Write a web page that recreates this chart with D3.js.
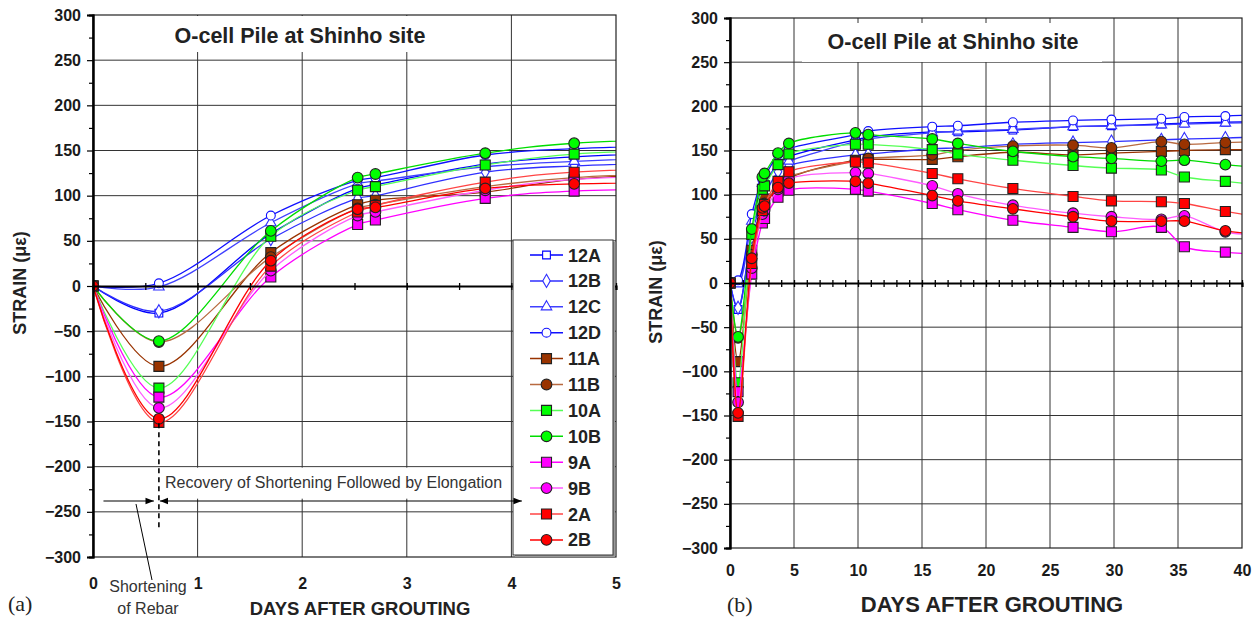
<!DOCTYPE html>
<html>
<head>
<meta charset="utf-8">
<script src="https://cdn.jsdelivr.net/npm/d3@7"></script>
<style>
  body { margin: 0; background: #fff; }
  svg { display: block; font-family: "Liberation Sans", Arial, sans-serif; }
</style>
</head>
<body>
<svg id="chart" width="1256" height="620"></svg>
<script>
// days after grouting at which the gauges were read (last one lies past the right axis)
var days = [0, 0.63, 1.7, 2.53, 2.7, 3.75, 4.6, 9.8, 10.8, 15.8, 17.8, 22.1, 26.8, 29.8, 33.7, 35.5, 38.7, 42];

var gauges = ["12A", "12B", "12C", "12D", "11A", "11B", "10A", "10B", "9A", "9B", "2A", "2B"];

// strain readings (micro strain), one list per gauge
var strain12A = [0, -30, 58, 108, 112, 135, 143, 162, 165, 171, 171, 173, 177, 178, 180, 181, 182, 183];
var strain12B = [0, -28, 52, 97, 100, 126, 133, 145, 146, 152, 153, 157, 159, 160, 162, 163, 164, 166];
var strain12C = [0, -1, 70, 113, 116, 132, 138, 160, 163, 170, 172, 174, 177, 178, 179, 180, 181, 182];
var strain12D = [0, 3, 78, 117, 120, 145, 152, 168, 172, 177, 178, 182, 184, 185, 186, 188, 189, 191];
var strain11A = [0, -89, 37, 90, 95, 104, 118, 139, 140, 140, 143, 148, 145, 147, 149, 150, 151, 151];
var strain11B = [0, -62, 32, 86, 90, 110, 120, 138, 141, 145, 150, 155, 156, 153, 160, 157, 159, 160];
var strain10A = [0, -113, 55, 106, 110, 134, 146, 157, 157, 151, 146, 139, 133, 130, 128, 120, 115, 110];
var strain10B = [0, -61, 61, 120, 124, 147, 158, 170, 168, 163, 158, 149, 143, 141, 138, 139, 134, 130];
var strain9A = [0, -123, 10, 68, 73, 97, 105, 106, 104, 90, 83, 71, 63, 58, 63, 41, 35, 32];
var strain9B = [0, -135, 17, 78, 82, 106, 118, 125, 124, 110, 101, 88, 79, 75, 72, 76, 58, 54];
var strain2A = [0, -151, 22, 82, 89, 115, 126, 137, 136, 124, 118, 107, 98, 93, 92, 90, 81, 74];
var strain2B = [0, -147, 28, 85, 87, 108, 113, 115, 113, 99, 93, 84, 75, 70, 70, 70, 59, 55];

var strainByGauge = [strain12A, strain12B, strain12C, strain12D, strain11A, strain11B,
  strain10A, strain10B, strain9A, strain9B, strain2A, strain2B];

var strainTicks = [-300, -250, -200, -150, -100, -50, 0, 50, 100, 150, 200, 250, 300];
var dayTicksA = [0, 1, 2, 3, 4, 5];
var dayTicksB = [0, 5, 10, 15, 20, 25, 30, 35, 40];

var chartTitle = "O-cell Pile at Shinho site";

// look of each gauge
var gaugeStyle = {
  "12A": { line: "#0000ff", shape: "square", fill: "#fff", stroke: "#0000ff" },
  "12B": { line: "#2f2fff", shape: "diamond", fill: "#fff", stroke: "#2f2fff" },
  "12C": { line: "#4040ff", shape: "triangle", fill: "#fff", stroke: "#3030ff" },
  "12D": { line: "#1010ff", shape: "circle", fill: "#fff", stroke: "#1010ff" },
  "11A": { line: "#993300", shape: "square", fill: "#993300", stroke: "#222" },
  "11B": { line: "#b86a40", shape: "circle", fill: "#993300", stroke: "#222" },
  "10A": { line: "#55ff55", shape: "square", fill: "#00ff00", stroke: "#222" },
  "10B": { line: "#00dd00", shape: "circle", fill: "#00ff00", stroke: "#222" },
  "9A": { line: "#ff00ff", shape: "square", fill: "#ff00ff", stroke: "#222" },
  "9B": { line: "#ff5cff", shape: "circle", fill: "#ff00ff", stroke: "#222" },
  "2A": { line: "#ff4444", shape: "square", fill: "#ff0000", stroke: "#222" },
  "2B": { line: "#ff0000", shape: "circle", fill: "#ff0000", stroke: "#222" }
};

var svg = d3.select("#chart");

function symbolPath(style) {
  var open = style.fill === "#fff";
  var types = {
    square: d3.symbolSquare,
    diamond: d3.symbolDiamond,
    triangle: d3.symbolTriangle,
    circle: d3.symbolCircle
  };
  var sizes = open
    ? { square: 60, diamond: 50, triangle: 48, circle: 62 }
    : { square: 100, diamond: 80, triangle: 80, circle: 90 };
  return d3.symbol().type(types[style.shape]).size(sizes[style.shape])();
}

function styleTickText(axis) {
  axis.selectAll("text")
    .attr("font-size", "16px").attr("font-weight", "bold")
    .attr("font-family", "Liberation Sans, Arial, sans-serif")
    .attr("fill", "#1a1a1a");
}

function drawPanel(p) {
  var x = d3.scaleLinear().domain([0, p.xMax]).range([p.left, p.right]);
  var y = d3.scaleLinear().domain([-300, 300]).range([p.bottom, p.top]);
  var g = svg.append("g").attr("class", "panel-" + p.name);

  svg.append("clipPath").attr("id", "clip-" + p.name)
    .append("rect")
    .attr("x", p.left).attr("y", p.top)
    .attr("width", p.right - p.left).attr("height", p.bottom - p.top);

  // grid
  g.selectAll(".hgrid")
    .data(strainTicks.filter(function(d) { return d > -300 && d < 300 && d !== 0; }))
    .enter().append("line")
    .attr("x1", p.left).attr("x2", p.right)
    .attr("y1", function(d) { return y(d); })
    .attr("y2", function(d) { return y(d); })
    .attr("stroke", "#333").attr("stroke-width", 1);

  g.selectAll(".vgrid")
    .data(p.dayTicks.filter(function(d) { return d > 0 && d < p.xMax; }))
    .enter().append("line")
    .attr("y1", p.top).attr("y2", p.bottom)
    .attr("x1", function(d) { return x(d); })
    .attr("x2", function(d) { return x(d); })
    .attr("stroke", "#333").attr("stroke-width", 1);

  // white box behind the title
  g.append("rect")
    .attr("x", p.titleBox[0]).attr("y", p.titleBox[1])
    .attr("width", p.titleBox[2]).attr("height", p.titleBox[3])
    .attr("fill", "#fff");
  g.append("text")
    .attr("x", p.titleX).attr("y", p.titleY)
    .attr("text-anchor", "middle")
    .attr("font-size", "21.5px").attr("font-weight", "bold")
    .attr("fill", "#222")
    .text(chartTitle);

  if (p.textBox) p.textBox(g, x, y);

  // series
  var line = d3.line()
    .curve(d3.curveCatmullRom.alpha(0.5))
    .x(function(d) { return x(d[0]); })
    .y(function(d) { return y(d[1]); });

  var plot = g.append("g").attr("clip-path", "url(#clip-" + p.name + ")");
  gauges.forEach(function(name, i) {
    var style = gaugeStyle[name];
    var pts = days.map(function(t, k) { return [t, strainByGauge[i][k]]; });
    plot.append("path")
      .attr("d", line(pts))
      .attr("fill", "none")
      .attr("stroke", style.line)
      .attr("stroke-width", 1.3);
    plot.selectAll(".m" + name)
      .data(pts.filter(function(d) { return d[0] <= p.xMax; }))
      .enter().append("path")
      .attr("d", symbolPath(style))
      .attr("transform", function(d) {
        return "translate(" + x(d[0]) + "," + y(d[1]) + ")";
      })
      .attr("fill", style.fill)
      .attr("stroke", style.stroke)
      .attr("stroke-width", 1.1);
  });

  // frame
  g.append("rect")
    .attr("x", p.left).attr("y", p.top)
    .attr("width", p.right - p.left).attr("height", p.bottom - p.top)
    .attr("fill", "none").attr("stroke", "#222").attr("stroke-width", 1.2);

  // y axis, major + minor ticks
  var yAxis = g.append("g")
    .attr("transform", "translate(" + p.left + ",0)")
    .call(d3.axisLeft(y).tickValues(strainTicks).tickSize(6).tickPadding(6));
  var yMinor = g.append("g")
    .attr("transform", "translate(" + p.left + ",0)")
    .call(d3.axisLeft(y).tickValues(d3.range(-275, 300, 50)).tickSize(4).tickFormat(""));
  [yAxis, yMinor].forEach(function(a) {
    a.select(".domain").attr("stroke", "#000").attr("stroke-width", 2);
    a.selectAll(".tick line").attr("stroke", "#000").attr("stroke-width", 1.2);
  });
  styleTickText(yAxis);

  // zero line with small day ticks
  var zero = g.append("g")
    .attr("transform", "translate(0," + y(0) + ")")
    .call(d3.axisBottom(x).tickValues(d3.range(0, p.xMax + 0.001, p.minorStep))
      .tickSize(4).tickFormat(""));
  zero.select(".domain").attr("stroke", "#000").attr("stroke-width", 2.2);
  zero.selectAll(".tick line").attr("stroke", "#000").attr("stroke-width", 1.3)
    .attr("y1", -3);

  // day labels under the frame
  var xAxis = g.append("g")
    .attr("transform", "translate(0," + p.bottom + ")")
    .call(d3.axisBottom(x).tickValues(p.dayTicks).tickFormat(d3.format("d"))
      .tickSize(0).tickPadding(p.xPad));
  xAxis.select(".domain").remove();
  styleTickText(xAxis);

  // axis titles
  g.append("text")
    .attr("x", p.xTitleX).attr("y", p.xTitleY)
    .attr("text-anchor", "middle")
    .attr("font-size", p.xTitleSize).attr("font-weight", "bold")
    .attr("fill", "#222")
    .text("DAYS AFTER GROUTING");
  g.append("text")
    .attr("transform", "translate(" + p.yTitleX + "," + p.yTitleY + ") rotate(-90)")
    .attr("text-anchor", "middle")
    .attr("font-size", p.yTitleSize).attr("font-weight", "bold")
    .attr("fill", "#222")
    .text("STRAIN (με)");

  g.append("text")
    .attr("x", p.tagX).attr("y", p.tagY)
    .attr("font-family", "Liberation Serif, Times New Roman, serif")
    .attr("font-size", "22px")
    .attr("fill", "#222")
    .text(p.tag);

  if (p.legend) drawLegend(g, p.legend);
  if (p.arrows) p.arrows(g, x, y);
}

function drawLegend(g, box) {
  g.append("rect")
    .attr("x", box.x + 2).attr("y", box.y + 2)
    .attr("width", box.w).attr("height", box.h)
    .attr("fill", "#999");
  g.append("rect")
    .attr("x", box.x).attr("y", box.y)
    .attr("width", box.w).attr("height", box.h)
    .attr("fill", "#fff").attr("stroke", "#333").attr("stroke-width", 1);

  var rows = g.selectAll(".legend-row")
    .data(gauges)
    .enter().append("g")
    .attr("transform", function(d, i) {
      return "translate(" + (box.x + 17) + "," + (box.y + 15 + i * 25.9) + ")";
    });
  rows.append("line")
    .attr("x1", 0).attr("x2", 33)
    .attr("stroke", function(d) { return gaugeStyle[d].line; })
    .attr("stroke-width", 1.5);
  rows.append("path")
    .attr("d", function(d) { return symbolPath(gaugeStyle[d]); })
    .attr("transform", "translate(16.5,0)")
    .attr("fill", function(d) { return gaugeStyle[d].fill; })
    .attr("stroke", function(d) { return gaugeStyle[d].stroke; })
    .attr("stroke-width", 1.1);
  rows.append("text")
    .attr("x", 38).attr("y", 6.5)
    .attr("font-size", "18px").attr("font-weight", "bold")
    .attr("fill", "#222")
    .text(function(d) { return d; });
}

// note box of panel (a), drawn under the curves
function noteBoxA(g, x, y) {
  g.append("rect")
    .attr("x", 160).attr("y", y(-200) + 1)
    .attr("width", 350).attr("height", 31)
    .attr("fill", "#fff");
  g.append("text")
    .attr("x", 165).attr("y", y(-200) + 21)
    .attr("font-size", "16px").attr("fill", "#333")
    .text("Recovery of Shortening Followed by Elongation");
}

// arrows and notes of panel (a), drawn on top of everything
function arrowsA(g, x, y) {
  var defs = svg.append("defs");
  defs.append("marker")
    .attr("id", "arrow")
    .attr("viewBox", "0 0 10 10")
    .attr("refX", 10).attr("refY", 5)
    .attr("markerWidth", 7).attr("markerHeight", 7)
    .attr("orient", "auto-start-reverse")
    .append("path").attr("d", "M0,1L10,5L0,9Z").attr("fill", "#000");

  var armY = y(-238);
  g.append("line")
    .attr("x1", x(0.63)).attr("x2", x(0.63))
    .attr("y1", y(-152)).attr("y2", y(-268))
    .attr("stroke", "#000").attr("stroke-width", 1.6)
    .attr("stroke-dasharray", "5,4");
  g.append("line")
    .attr("x1", x(0.1)).attr("x2", x(0.63) - 5)
    .attr("y1", armY).attr("y2", armY)
    .attr("stroke", "#000").attr("stroke-width", 1.2)
    .attr("marker-end", "url(#arrow)");
  g.append("line")
    .attr("x1", x(0.63) + 1).attr("x2", x(4.1))
    .attr("y1", armY).attr("y2", armY)
    .attr("stroke", "#000").attr("stroke-width", 1.2)
    .attr("marker-start", "url(#arrow)")
    .attr("marker-end", "url(#arrow)");

  // leader to the note under the axis
  g.append("line")
    .attr("x1", 136).attr("y1", armY + 3)
    .attr("x2", 152).attr("y2", 580)
    .attr("stroke", "#000").attr("stroke-width", 1);
  g.append("text")
    .attr("x", 148).attr("y", 592)
    .attr("text-anchor", "middle")
    .attr("font-size", "16px").attr("fill", "#333")
    .text("Shortening");
  g.append("text")
    .attr("x", 148).attr("y", 614)
    .attr("text-anchor", "middle")
    .attr("font-size", "16px").attr("fill", "#333")
    .text("of Rebar");
}

drawPanel({
  name: "a", xMax: 5, dayTicks: dayTicksA, minorStep: 0.5,
  left: 93, right: 616, top: 15, bottom: 557,
  titleBox: [150, 16, 300, 36], titleX: 300, titleY: 43,
  xPad: 21, xTitleX: 360, xTitleY: 615, xTitleSize: "18.5px",
  yTitleX: 26, yTitleY: 283, yTitleSize: "18px",
  tag: "(a)", tagX: 8, tagY: 611,
  legend: { x: 513, y: 240, w: 100, h: 315 },
  textBox: noteBoxA,
  arrows: arrowsA
});

drawPanel({
  name: "b", xMax: 40, dayTicks: dayTicksB, minorStep: 1,
  left: 730, right: 1242, top: 18, bottom: 548,
  titleBox: [802, 23, 300, 39], titleX: 953, titleY: 49,
  xPad: 17, xTitleX: 992, xTitleY: 612, xTitleSize: "22px",
  yTitleX: 662, yTitleY: 292, yTitleSize: "18px",
  tag: "(b)", tagX: 727, tagY: 612
});
</script>
</body>
</html>
